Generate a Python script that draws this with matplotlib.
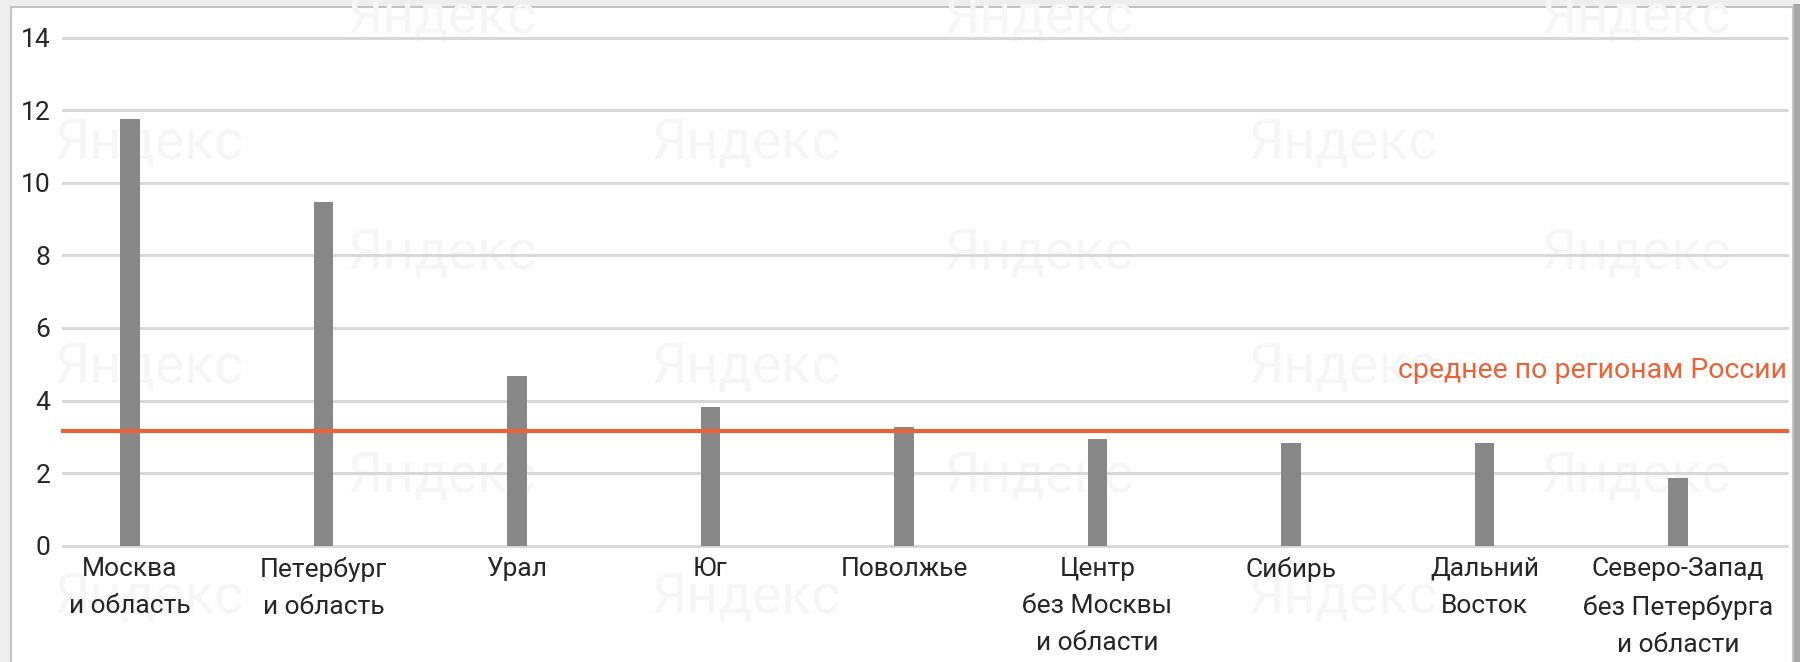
import numpy as np
import matplotlib
matplotlib.use("Agg")
import matplotlib.pyplot as plt
from matplotlib.patches import Rectangle

# data
regions = ["Москва\nи область", "Петербург\nи область", "Урал", "Юг", "Поволжье",
           "Центр\nбез Москвы\nи области", "Сибирь", "Дальний\nВосток",
           "Северо-Запад\nбез Петербурга\nи области"]
values = [11.75, 9.48, 4.69, 3.82, 3.28, 2.94, 2.83, 2.83, 1.86]
russia_mean = 3.17
mean_label = "среднее по регионам России"
yticks = [0, 2, 4, 6, 8, 10, 12, 14]

plt.rcParams['font.family'] = ['Roboto', 'DejaVu Sans']

W, H = 1800, 662
fig = plt.figure(figsize=(W / 100, H / 100), dpi=100, facecolor='#eeeeee')

# white card with a thin border and a shadow on the right
fig.patches.append(Rectangle((1793 / W, 0), 7 / W, (H - 4) / H, transform=fig.transFigure,
                             facecolor='#a8a8a8', edgecolor='none', zorder=0))
fig.patches.append(Rectangle((11 / W, -0.05), 1782 / W, 1.05 - 7 / H, transform=fig.transFigure,
                             facecolor='white', edgecolor='#c4c4c4', lw=1.5, zorder=1))

# faint watermarks
wm_rows = [17, 143, 253, 367, 476, 597]
for i, yy in enumerate(wm_rows):
    xs = [442, 1039, 1636] if i % 2 == 0 else [149, 746, 1343]
    for xx in xs:
        fig.text(xx / W, 1 - yy / H, "Яндекс", fontsize=40, color='#f6f6f6',
                 family=['Liberation Sans Narrow', 'Roboto'],
                 ha='center', va='center', zorder=2)

ax = fig.add_axes([63 / W, (H - 545.7) / H, (1787 - 63) / W, (545.7 - 37.7) / H])
ax.set_zorder(5)
ax.set_facecolor('none')

x = np.arange(len(regions))
ax.set_xlim(-0.346, 8.563)
ax.set_ylim(0, 14)

for t in yticks:
    ax.axhline(t, color='#d6d6d6', lw=2, zorder=1, clip_on=False)

ax.bar(x, values, width=0.1, color='#878787', zorder=2)
ax.axhline(russia_mean, color='#ea6337', lw=3, zorder=3, clip_on=False)
ax.text(1.0, 4.83, mean_label, transform=ax.get_yaxis_transform(), ha='right', va='center',
        fontsize=20.5, color='#ea6337')

for s in ax.spines.values():
    s.set_visible(False)

ax.set_yticks(yticks)
ax.set_yticklabels([str(t) for t in yticks], fontsize=19, color='#262626')
ax.set_xticks(x)
ax.set_xticklabels(regions, fontsize=19, color='#262626', linespacing=1.7)
ax.tick_params(axis='both', length=0)
ax.tick_params(axis='y', pad=9)
ax.tick_params(axis='x', pad=8)

fig.savefig("out.png", dpi=100, facecolor=fig.get_facecolor())
